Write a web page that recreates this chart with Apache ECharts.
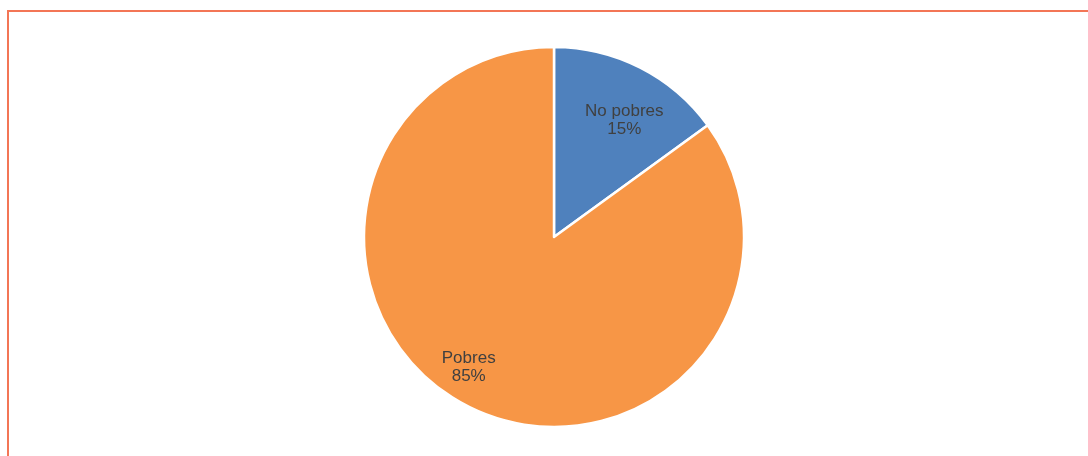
<!DOCTYPE html>
<html>
<head>
<meta charset="utf-8">
<script src="https://cdn.jsdelivr.net/npm/echarts@6/dist/echarts.min.js"></script>
<style>
html,body{margin:0;padding:0;width:1088px;height:456px;overflow:hidden;background:#fff;}
#frame{position:absolute;left:7px;top:10px;width:1200px;height:600px;border:2px solid #f37656;box-sizing:border-box;}
#chart{position:absolute;left:0;top:0;width:1088px;height:456px;}
</style>
</head>
<body>
<div id="frame"></div>
<div id="chart"></div>
<script>
var categories = ["No pobres", "Pobres"];
var values = [15, 85];
var colors = ["#4f81bd", "#f79646"];

// label nudges (style only)
var labelOffsets = [[4, 13], [-19, 0]];

var chart = echarts.init(document.getElementById('chart'));
var data = categories.map(function (c, i) {
  return { name: c, value: values[i], itemStyle: { color: colors[i] } };
});
var labelData = categories.map(function (c, i) {
  return { name: c, value: values[i], label: { offset: labelOffsets[i] } };
});
chart.setOption({
  animation: false,
  series: [
    {
      type: 'pie',
      center: [554, 237],
      radius: [0, 190],
      startAngle: 90,
      clockwise: true,
      silent: true,
      label: { show: false },
      labelLine: { show: false },
      itemStyle: { borderColor: '#ffffff', borderWidth: 2.5 },
      data: data
    },
    {
      type: 'pie',
      center: [554, 237],
      radius: [96, 190],
      startAngle: 90,
      clockwise: true,
      silent: true,
      itemStyle: { color: 'rgba(0,0,0,0)' },
      label: {
        show: true,
        position: 'inside',
        color: '#404040',
        fontFamily: 'Liberation Sans, Arial, sans-serif',
        fontSize: 17,
        lineHeight: 18,
        formatter: function (p) { return p.name + '\n' + p.value + '%'; }
      },
      labelLine: { show: false },
      data: labelData
    }
  ]
});
</script>
</body>
</html>
